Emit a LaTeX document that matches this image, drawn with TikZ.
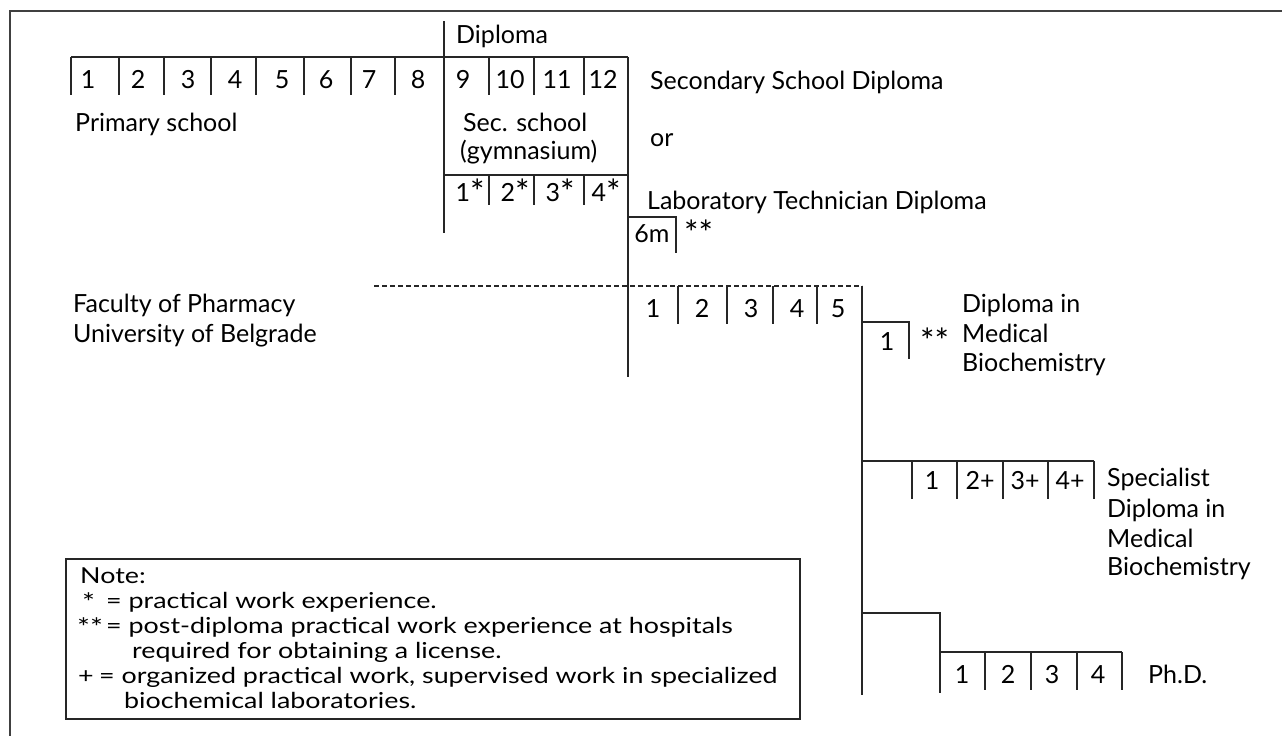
\documentclass[tikz,border=0pt]{standalone}
\usepackage{fontspec}
\setmainfont{Lato}
\newfontfamily\notefont[FakeStretch=1.22]{Lato}
\newcommand\starmark{\raisebox{-3pt}{\fontsize{34}{34}\selectfont *}}
\newcommand\notestar{\raisebox{-3pt}{\fontsize{25}{25}\selectfont *}}
\tikzset{
  rule/.style={line width=1.6pt, black!85},
  yr/.style={anchor=base, inner sep=0pt, font=\fontsize{25}{30}\selectfont},
  lbl/.style={anchor=base west, inner sep=0pt, font=\fontsize{25}{30}\selectfont},
  notetxt/.style={anchor=base west, inner sep=0pt, font=\notefont\fontsize{22}{24}\selectfont}
}
\begin{document}
\begin{tikzpicture}[x=1pt,y=-1pt]
\useasboundingbox (0,0) rectangle (1282,736);
% frame
\draw[line width=1.5pt, black!75] (10,736) -- (10,11) -- (1282,11);

% primary and secondary school
\draw[rule] (71,57) -- (628,57);
\foreach \x in {71,119,164,211,256,304,351,395,489,534,584}
  \draw[rule] (\x,57) -- (\x,95);
\foreach \x/\n in {88/1,138/2,188/3,235/4,282/5,326/6,369/7,418/8,463/9,510/10,557/11,603/12}
  \node[yr] (y\n) at (\x,88) {\n};
\draw[rule] (444,21) -- (444,233);
\draw[rule] (628,57) -- (628,377);
\draw[rule] (444,175) -- (628,175);
\foreach \x in {489,534,584}
  \draw[rule] (\x,175) -- (\x,205);
\foreach \x/\n in {470/1,515/2,560/3,606/4}
  \node[yr] (g\n) at (\x,201) {\n\starmark};
\draw[rule] (628,217) -- (676,217) -- (676,253);
\node[yr] (six) at (652,242) {6m};
\node[lbl] (sixstar) at (684,242) {\starmark\starmark};

\node[lbl] (diploma) at (456,43) {Diploma};
\node[lbl] (primary) at (75,131) {Primary school};
\node[lbl] (sec1) at (463,131) {Sec. school};
\node[lbl] (sec2) at (460,159) {(gymnasium)};
\node[lbl] (ssd) at (650,89) {Secondary School Diploma};
\node[lbl] (or) at (650,146) {or};
\node[lbl] (ltd) at (647,209) {Laboratory Technician Diploma};

% faculty
\draw[line width=1.3pt, black!85, dash pattern=on 5pt off 3pt] (374,286) -- (862,286);
\draw[rule] (862,286) -- (862,695);
\foreach \x in {678,727,773,817}
  \draw[rule] (\x,286) -- (\x,324);
\foreach \x/\n in {653/1,702/2,751/3,797/4,838/5}
  \node[yr] (f\n) at (\x,317) {\n};
\node[lbl] (fac1) at (73,312) {Faculty of Pharmacy};
\node[lbl] (fac2) at (73,342) {University of Belgrade};

% diploma in medical biochemistry
\draw[rule] (862,322) -- (909,322) -- (909,359);
\node[yr] (m1) at (887,350) {1};
\node[lbl] (mstar) at (920,350) {\starmark\starmark};
\node[lbl] (dmb1) at (962,312) {Diploma in};
\node[lbl] (dmb2) at (962,342) {Medical};
\node[lbl] (dmb3) at (962,371) {Biochemistry};

% specialist
\draw[rule] (862,461) -- (1094,461);
\foreach \x in {912,957,1003,1048,1094}
  \draw[rule] (\x,461) -- (\x,499);
\foreach \x/\n in {932/1,980/2+,1025/3+,1070/4+}
  \node[yr] (s\x) at (\x,489) {\n};
\node[lbl] (spec1) at (1107,486) {Specialist};
\node[lbl] (spec2) at (1107,517) {Diploma in};
\node[lbl] (spec3) at (1107,547) {Medical};
\node[lbl] (spec4) at (1107,575) {Biochemistry};

% phd
\draw[rule] (862,613) -- (940,613) -- (940,693);
\draw[rule] (940,652) -- (1122,652);
\foreach \x in {985,1031,1077,1122}
  \draw[rule] (\x,652) -- (\x,690);
\foreach \x/\n in {962/1,1008/2,1052/3,1098/4}
  \node[yr] (d\n) at (\x,683) {\n};
\node[lbl] (phd) at (1148,683) {Ph.D.};

% note
\draw[line width=1.2pt, black!85] (66,559) rectangle (800,719);
\node[notetxt] (n0) at (80,583) {Note:};
\node[notetxt] (n1a) at (82,608) {\notestar};
\node[notetxt] (n1b) at (106,608) {= practical work experience.};
\node[notetxt] (n2a) at (77,633) {\notestar\notestar};
\node[notetxt] (n2b) at (106,633) {= post-diploma practical work experience at hospitals};
\node[notetxt] (n3) at (132,658) {required for obtaining a license.};
\node[notetxt] (n4a) at (78,683) {+};
\node[notetxt] (n4b) at (99,683) {= organized practical work, supervised work in specialized};
\node[notetxt] (n5) at (124,708) {biochemical laboratories.};
\end{tikzpicture}
\end{document}
